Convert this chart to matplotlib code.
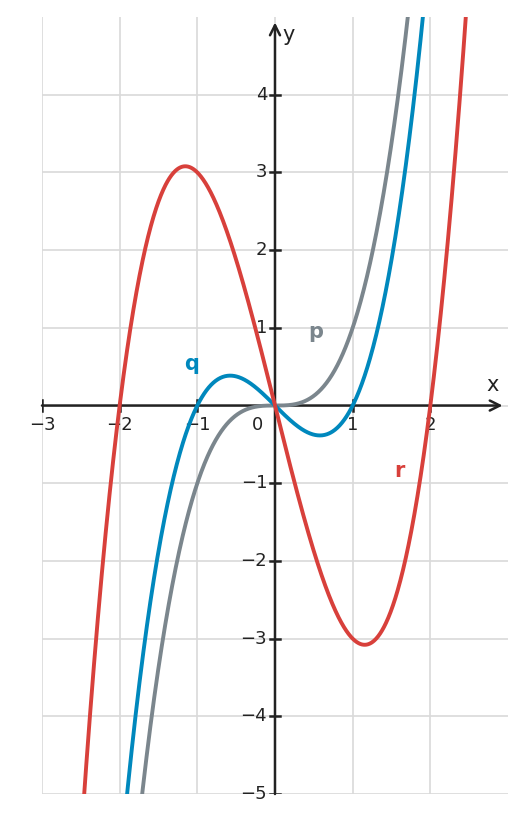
import numpy as np
import matplotlib.pyplot as plt

# Coeficientes dos polinômios (grau 3 -> 0)
coef_p = [1, 0, 0, 0]      # p(x) = x^3
coef_q = [1, 0, -1, 0]     # q(x) = x^3 - x
coef_r = [1, 0, -4, 0]     # r(x) = x^3 - 4x

nomes = ['p', 'q', 'r']
cores = {'p': '#7b868d', 'q': '#0088bd', 'r': '#d8403b'}
pos_rotulos = {'p': (0.53, 0.95), 'q': (-1.07, 0.53), 'r': (1.6, -0.84)}

x_ticks = [-3, -2, -1, 1, 2]
y_ticks = [-5, -4, -3, -2, -1, 1, 2, 3, 4]

fig = plt.figure(figsize=(5.26, 8.23), dpi=100)
ax = fig.add_axes([0.0798, 0.0352, 0.886, 0.9441])
ax.set_xlim(-3, 3)
ax.set_ylim(-5, 5)

# grade
for gx in range(-3, 3):
    ax.axvline(gx, color='#d9d9d9', lw=1.2, zorder=0)
for gy in range(-5, 5):
    ax.axhline(gy, color='#d9d9d9', lw=1.2, zorder=0)

# eixos com setas
cor_eixo = '#222222'
ax.annotate('', xy=(2.93, 0), xytext=(-3, 0),
            arrowprops=dict(arrowstyle='->', color=cor_eixo, lw=1.8,
                            mutation_scale=18, shrinkA=0, shrinkB=0), zorder=2)
ax.annotate('', xy=(0, 4.93), xytext=(0, -5),
            arrowprops=dict(arrowstyle='->', color=cor_eixo, lw=1.8,
                            mutation_scale=18, shrinkA=0, shrinkB=0), zorder=2)

# marcas dos eixos
for t in x_ticks:
    ax.plot([t, t], [-0.07, 0.07], color=cor_eixo, lw=1.8, zorder=2)
    ax.text(t, -0.25, f'{t}'.replace('-', '\u2212'), ha='center', va='center',
            fontsize=13, color=cor_eixo)
for t in y_ticks:
    ax.plot([-0.07, 0.07], [t, t], color=cor_eixo, lw=1.8, zorder=2)
    ax.text(-0.1, t, f'{t}'.replace('-', '\u2212'), ha='right', va='center',
            fontsize=13, color=cor_eixo)
ax.text(-0.22, -0.25, '0', ha='center', va='center', fontsize=13, color=cor_eixo)
ax.text(2.8, 0.26, 'x', ha='center', va='center', fontsize=15, color=cor_eixo)
ax.text(0.18, 4.77, 'y', ha='center', va='center', fontsize=15, color=cor_eixo)

# curvas
x = np.linspace(-3, 3, 1200)
coefs = {'p': coef_p, 'q': coef_q, 'r': coef_r}
for nome in nomes:
    ax.plot(x, np.polyval(coefs[nome], x), color=cores[nome], lw=2.8,
            zorder=3, solid_capstyle='round')
    ax.text(*pos_rotulos[nome], nome, color=cores[nome], fontsize=15,
            fontweight='bold', ha='center', va='center')

ax.axis('off')
fig.savefig('out.png', dpi=100)
